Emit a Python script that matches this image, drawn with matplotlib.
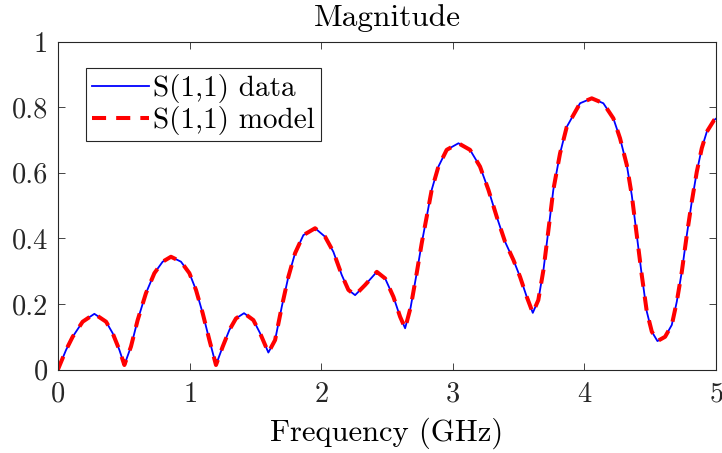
import matplotlib
matplotlib.use("Agg")
from matplotlib import pyplot as plt

plt.rcParams['font.family'] = ['cmr10', 'DejaVu Serif']
plt.rcParams['axes.formatter.use_mathtext'] = True
plt.rcParams['mathtext.fontset'] = 'cm'

# frequency in GHz
freq = [0.0, 0.062, 0.112, 0.188, 0.277, 0.366, 0.416, 0.467, 0.505, 0.555,
        0.606, 0.669, 0.733, 0.796, 0.859, 0.935, 0.999, 1.049, 1.100, 1.151,
        1.201, 1.252, 1.303, 1.353, 1.414, 1.485, 1.536, 1.599, 1.650, 1.701,
        1.751, 1.802, 1.865, 1.954, 2.030, 2.093, 2.157, 2.207, 2.258, 2.334,
        2.423, 2.486, 2.549, 2.600, 2.638, 2.680, 2.726, 2.764, 2.802, 2.840,
        2.891, 2.954, 3.043, 3.131, 3.207, 3.271, 3.334, 3.397, 3.461, 3.511,
        3.562, 3.608, 3.650, 3.689, 3.727, 3.764, 3.815, 3.866, 3.967, 4.056,
        4.144, 4.220, 4.271, 4.322, 4.360, 4.398, 4.436, 4.474, 4.512, 4.555,
        4.613, 4.664, 4.702, 4.740, 4.778, 4.816, 4.854, 4.892, 4.930, 4.986, 5.0]

# |S(1,1)| measured
s11_data = [0.0, 0.060, 0.100, 0.146, 0.170, 0.146, 0.111, 0.060, 0.014, 0.070,
            0.151, 0.233, 0.294, 0.329, 0.344, 0.329, 0.294, 0.243, 0.172, 0.090,
            0.014, 0.070, 0.121, 0.156, 0.172, 0.151, 0.111, 0.052, 0.090, 0.192,
            0.283, 0.355, 0.410, 0.431, 0.405, 0.359, 0.288, 0.243, 0.227, 0.258,
            0.298, 0.278, 0.222, 0.161, 0.126, 0.190, 0.294, 0.385, 0.466, 0.548,
            0.619, 0.670, 0.690, 0.670, 0.619, 0.548, 0.466, 0.390, 0.334, 0.283,
            0.222, 0.173, 0.212, 0.304, 0.426, 0.548, 0.659, 0.740, 0.812, 0.827,
            0.812, 0.766, 0.705, 0.624, 0.532, 0.410, 0.288, 0.177, 0.116, 0.087,
            0.100, 0.136, 0.207, 0.298, 0.410, 0.512, 0.603, 0.675, 0.725, 0.761, 0.765]

# fitted model follows the data
s11_model = list(s11_data)

fig = plt.figure(figsize=(7.22, 4.53), dpi=100)
ax = fig.add_axes([0.0802, 0.1841, 0.9115, 0.7241])

ax.plot(freq, s11_data, '-', color='#0000ff', lw=1.3, label='S(1,1) data')
ax.plot(freq, s11_model, '--', color='#ff0000', lw=2.9, dashes=(3.5, 2.5),
        label='S(1,1) model')

ax.set_xlim(0, 5)
ax.set_ylim(0, 1)
ax.set_xticks([0, 1, 2, 3, 4, 5])
ax.set_yticks([0, 0.2, 0.4, 0.6, 0.8, 1])
ax.set_yticklabels(['0', '0.2', '0.4', '0.6', '0.8', '1'])
ax.tick_params(direction='in', top=True, right=True, length=5, width=0.6,
               labelsize=20.5, colors='#262626')
ax.tick_params(axis='x', pad=8.5)
ax.tick_params(axis='y', pad=7)
for s in ax.spines.values():
    s.set_color('#262626')
    s.set_linewidth(0.8)

ax.set_title('Magnitude', fontsize=22.5, pad=11)
ax.set_xlabel('Frequency (GHz)', fontsize=22, labelpad=7)

leg = ax.legend(loc='upper left', bbox_to_anchor=(0.0427, 0.9186), fontsize=21,
                fancybox=False, framealpha=1, edgecolor='#262626',
                handlelength=1.95, handletextpad=0.16, borderpad=0.2,
                labelspacing=0.1, borderaxespad=0)
leg.get_frame().set_linewidth(0.8)

fig.savefig('out.png', dpi=100)
